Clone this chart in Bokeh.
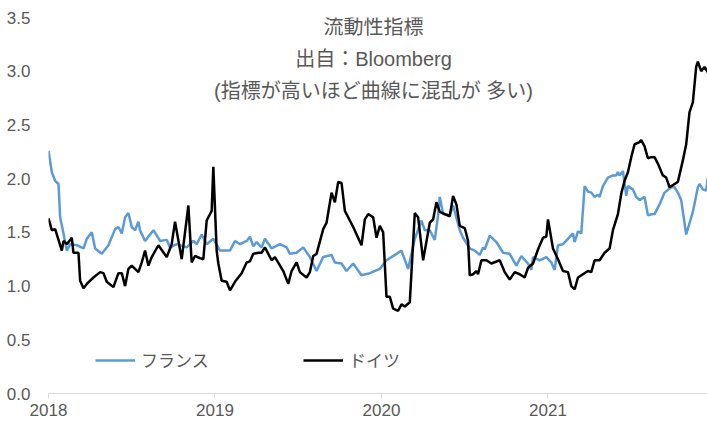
from bokeh.plotting import figure
from bokeh.models import (ColumnDataSource, FixedTicker, NumeralTickFormatter,
                          Legend, LegendItem, Label, Range1d)
from bokeh.embed import file_html
from bokeh.resources import INLINE

# ---- data (decimal years) ----
france_t = [
    2018.00, 2018.02, 2018.04, 2018.06, 2018.07, 2018.09, 2018.11, 2018.13, 2018.17, 2018.21,
    2018.23, 2018.26, 2018.28, 2018.32, 2018.36, 2018.40, 2018.42, 2018.44, 2018.46, 2018.48,
    2018.50, 2018.52, 2018.54, 2018.55, 2018.58, 2018.63, 2018.67, 2018.71, 2018.73, 2018.77,
    2018.83, 2018.87, 2018.89, 2018.92, 2018.95, 2018.99,
    2019.03, 2019.09, 2019.12, 2019.15, 2019.19, 2019.21, 2019.23, 2019.25, 2019.28, 2019.30,
    2019.34, 2019.39, 2019.43, 2019.45, 2019.49, 2019.53, 2019.57, 2019.61, 2019.65, 2019.70,
    2019.72, 2019.76, 2019.79, 2019.83, 2019.88, 2019.93, 2019.99,
    2020.03, 2020.09, 2020.12, 2020.16, 2020.20, 2020.24, 2020.26, 2020.29, 2020.32, 2020.34,
    2020.35, 2020.37, 2020.41, 2020.43, 2020.47, 2020.49, 2020.53, 2020.56, 2020.59, 2020.61,
    2020.62, 2020.65, 2020.69, 2020.73, 2020.77, 2020.81, 2020.84, 2020.88, 2020.90, 2020.91,
    2020.95, 2020.99,
    2021.02, 2021.04, 2021.06, 2021.09, 2021.12, 2021.15, 2021.16, 2021.18, 2021.20, 2021.22,
    2021.24, 2021.26, 2021.28, 2021.30, 2021.31, 2021.33, 2021.36, 2021.39, 2021.41, 2021.42,
    2021.43, 2021.45, 2021.47, 2021.48, 2021.51, 2021.53, 2021.55, 2021.58, 2021.60, 2021.63,
    2021.64, 2021.67, 2021.70, 2021.74, 2021.76, 2021.78, 2021.80, 2021.83, 2021.87, 2021.90,
    2021.91, 2021.93, 2021.95, 2021.96,
]
france_v = [
    2.26, 2.06, 1.98, 1.95, 1.64, 1.49, 1.33, 1.39, 1.38, 1.35,
    1.44, 1.50, 1.35, 1.30, 1.38, 1.53, 1.55, 1.49, 1.64, 1.68,
    1.55, 1.52, 1.60, 1.52, 1.42, 1.52, 1.42, 1.43, 1.36, 1.39,
    1.36, 1.42, 1.39, 1.48, 1.39, 1.44,
    1.33, 1.33, 1.42, 1.39, 1.42, 1.46, 1.37, 1.41, 1.36, 1.44,
    1.35, 1.39, 1.36, 1.30, 1.31, 1.36, 1.27, 1.14, 1.27, 1.29,
    1.22, 1.21, 1.14, 1.21, 1.10, 1.12, 1.16,
    1.24, 1.30, 1.33, 1.16, 1.44, 1.61, 1.52, 1.52, 1.43, 1.66,
    1.83, 1.67, 1.66, 1.75, 1.52, 1.45, 1.35, 1.33, 1.29, 1.36,
    1.34, 1.47, 1.41, 1.31, 1.30, 1.19, 1.28, 1.21, 1.15, 1.27,
    1.24, 1.27,
    1.22, 1.15, 1.38, 1.39, 1.44, 1.49, 1.41, 1.51, 1.49, 1.93,
    1.88, 1.87, 1.83, 1.85, 1.83, 1.93, 2.01, 2.03, 2.03, 2.06,
    2.03, 2.07, 1.84, 1.93, 1.90, 1.83, 1.80, 1.83, 1.66, 1.67,
    1.67, 1.76, 1.87, 1.92, 1.92, 1.87, 1.80, 1.48, 1.69, 1.92,
    1.95, 1.90, 1.89, 2.01,
]

germany_t = [
    2018.00, 2018.02, 2018.04, 2018.08, 2018.09, 2018.11, 2018.14, 2018.15, 2018.18, 2018.19,
    2018.21, 2018.23, 2018.27, 2018.31, 2018.33, 2018.35, 2018.39, 2018.42, 2018.44, 2018.46,
    2018.48, 2018.50, 2018.54, 2018.56, 2018.58, 2018.60, 2018.62, 2018.66, 2018.71, 2018.74,
    2018.76, 2018.80, 2018.84, 2018.86, 2018.88, 2018.91, 2018.93, 2018.95, 2018.98, 2018.99,
    2019.01, 2019.02, 2019.04, 2019.07, 2019.09, 2019.12, 2019.16, 2019.19, 2019.21, 2019.23,
    2019.26, 2019.28, 2019.30, 2019.34, 2019.36, 2019.41, 2019.44, 2019.46, 2019.49, 2019.51,
    2019.55, 2019.57, 2019.59, 2019.61, 2019.65, 2019.67, 2019.70, 2019.72, 2019.74, 2019.76,
    2019.78, 2019.83, 2019.88, 2019.90, 2019.92, 2019.95, 2019.97, 2019.99,
    2020.01, 2020.03, 2020.05, 2020.07, 2020.10, 2020.12, 2020.14, 2020.17, 2020.20, 2020.22,
    2020.25, 2020.29, 2020.31, 2020.33, 2020.35, 2020.41, 2020.43, 2020.45, 2020.47, 2020.50,
    2020.52, 2020.53, 2020.55, 2020.57, 2020.58, 2020.60, 2020.63, 2020.66, 2020.71, 2020.74,
    2020.77, 2020.80, 2020.83, 2020.86, 2020.88, 2020.91, 2020.94, 2020.97, 2020.99,
    2021.00, 2021.03, 2021.06, 2021.09, 2021.12, 2021.14, 2021.16, 2021.18, 2021.21, 2021.24,
    2021.26, 2021.28, 2021.31, 2021.34, 2021.37, 2021.39, 2021.42, 2021.44, 2021.46, 2021.48,
    2021.50, 2021.52, 2021.55, 2021.56, 2021.58, 2021.60, 2021.62, 2021.64, 2021.66, 2021.69,
    2021.71, 2021.73, 2021.76, 2021.78, 2021.81, 2021.83, 2021.85, 2021.87, 2021.89, 2021.90,
    2021.92, 2021.94, 2021.96,
]
germany_v = [
    1.63, 1.52, 1.53, 1.33, 1.42, 1.39, 1.45, 1.31, 1.31, 1.05,
    0.98, 1.02, 1.08, 1.13, 1.12, 1.04, 0.99, 1.12, 1.12, 1.00,
    1.16, 1.19, 1.13, 1.22, 1.33, 1.19, 1.27, 1.38, 1.27, 1.39,
    1.60, 1.25, 1.75, 1.22, 1.28, 1.26, 1.25, 1.61, 1.70, 2.11,
    1.33, 1.21, 1.05, 1.04, 0.96, 1.04, 1.12, 1.22, 1.23, 1.30,
    1.31, 1.31, 1.36, 1.24, 1.27, 1.14, 1.02, 1.14, 1.22, 1.13,
    1.08, 1.13, 1.28, 1.30, 1.53, 1.59, 1.87, 1.78, 1.97, 1.96,
    1.70, 1.55, 1.38, 1.62, 1.67, 1.64, 1.45, 1.56,
    1.50, 0.90, 0.90, 0.79, 0.77, 0.83, 0.81, 0.85, 1.68, 1.64,
    1.24, 1.59, 1.62, 1.78, 1.69, 1.65, 1.84, 1.76, 1.56, 1.54,
    1.42, 1.10, 1.11, 1.14, 1.11, 1.24, 1.24, 1.21, 1.24, 1.13,
    1.06, 1.13, 1.11, 1.08, 1.17, 1.21, 1.34, 1.45, 1.46,
    1.62, 1.35, 1.25, 1.14, 1.13, 1.00, 0.97, 1.08, 1.11, 1.14,
    1.13, 1.24, 1.24, 1.31, 1.35, 1.52, 1.67, 1.86, 1.98, 2.06,
    2.20, 2.32, 2.34, 2.36, 2.30, 2.19, 2.20, 2.20, 2.14, 2.03,
    2.01, 1.92, 1.95, 1.97, 2.17, 2.32, 2.62, 2.71, 3.04, 3.09,
    3.00, 3.04, 2.99,
]

year_ticks = [2018, 2019, 2020, 2021]
value_ticks = [0.0, 0.5, 1.0, 1.5, 2.0, 2.5, 3.0, 3.5]
title_lines = ["流動性指標", "出自：Bloomberg", "(指標が高いほど曲線に混乱が 多い)"]
series_names = ["フランス", "ドイツ"]

# ---- styling ----
GRAY = "#595959"
BLUE = "#5B9BD5"
BLACK = "#000000"
AXIS_FONT = "Liberation Sans, Arial, sans-serif"
TEXT_FONT = "Liberation Sans, Noto Sans CJK JP, sans-serif"

p = figure(width=707, height=423, output_backend="svg", toolbar_location=None,
           x_range=Range1d(2018.0, 2021.958), y_range=Range1d(0.0, 3.5),
           min_border_left=48, min_border_right=0, min_border_top=17,
           min_border_bottom=30)
p.outline_line_color = None
p.xgrid.visible = False
p.ygrid.visible = False
p.background_fill_color = "white"
p.border_fill_color = "white"

src_fr = ColumnDataSource(dict(t=france_t, v=france_v))
src_de = ColumnDataSource(dict(t=germany_t, v=germany_v))
r_fr = p.line("t", "v", source=src_fr, line_color=BLUE, line_width=2.5)
r_de = p.line("t", "v", source=src_de, line_color=BLACK, line_width=2.5)

# x axis
xa = p.xaxis[0]
xa.ticker = FixedTicker(ticks=year_ticks)
xa.axis_line_color = "#D9D9D9"
xa.axis_line_width = 1
xa.major_tick_line_color = "#D9D9D9"
xa.major_tick_out = 5
xa.major_tick_in = 0
xa.minor_tick_line_color = None
xa.major_label_text_font = AXIS_FONT
xa.major_label_text_font_size = "17px"
xa.major_label_text_color = GRAY
xa.major_label_standoff = 5

# y axis
ya = p.yaxis[0]
ya.ticker = FixedTicker(ticks=value_ticks)
ya.formatter = NumeralTickFormatter(format="0.0")
ya.axis_line_color = None
ya.major_tick_line_color = None
ya.minor_tick_line_color = None
ya.major_label_text_font = AXIS_FONT
ya.major_label_text_font_size = "17px"
ya.major_label_text_color = GRAY
ya.major_label_standoff = 12

# title lines drawn inside the plot
title_y = [3.407, 3.116, 2.819]
for txt, yy in zip(title_lines, title_y):
    p.add_layout(Label(x=2019.952, y=yy, text=txt, text_align="center",
                       text_baseline="middle", text_font=TEXT_FONT,
                       text_font_size="20px", text_color=GRAY))

# legends
for name, rend, loc in [(series_names[0], r_fr, (47, 21)),
                        (series_names[1], r_de, (255, 21))]:
    lg = Legend(items=[LegendItem(label=name, renderers=[rend])], location=loc,
                orientation="horizontal", padding=0, margin=0, spacing=0,
                glyph_width=40, glyph_height=20, label_height=20,
                label_standoff=6, border_line_color=None,
                background_fill_alpha=0, label_text_font=TEXT_FONT,
                label_text_font_size="17px", label_text_color=GRAY,
                label_text_baseline="middle")
    p.add_layout(lg)

open("out.html", "w").write(file_html(p, INLINE))
